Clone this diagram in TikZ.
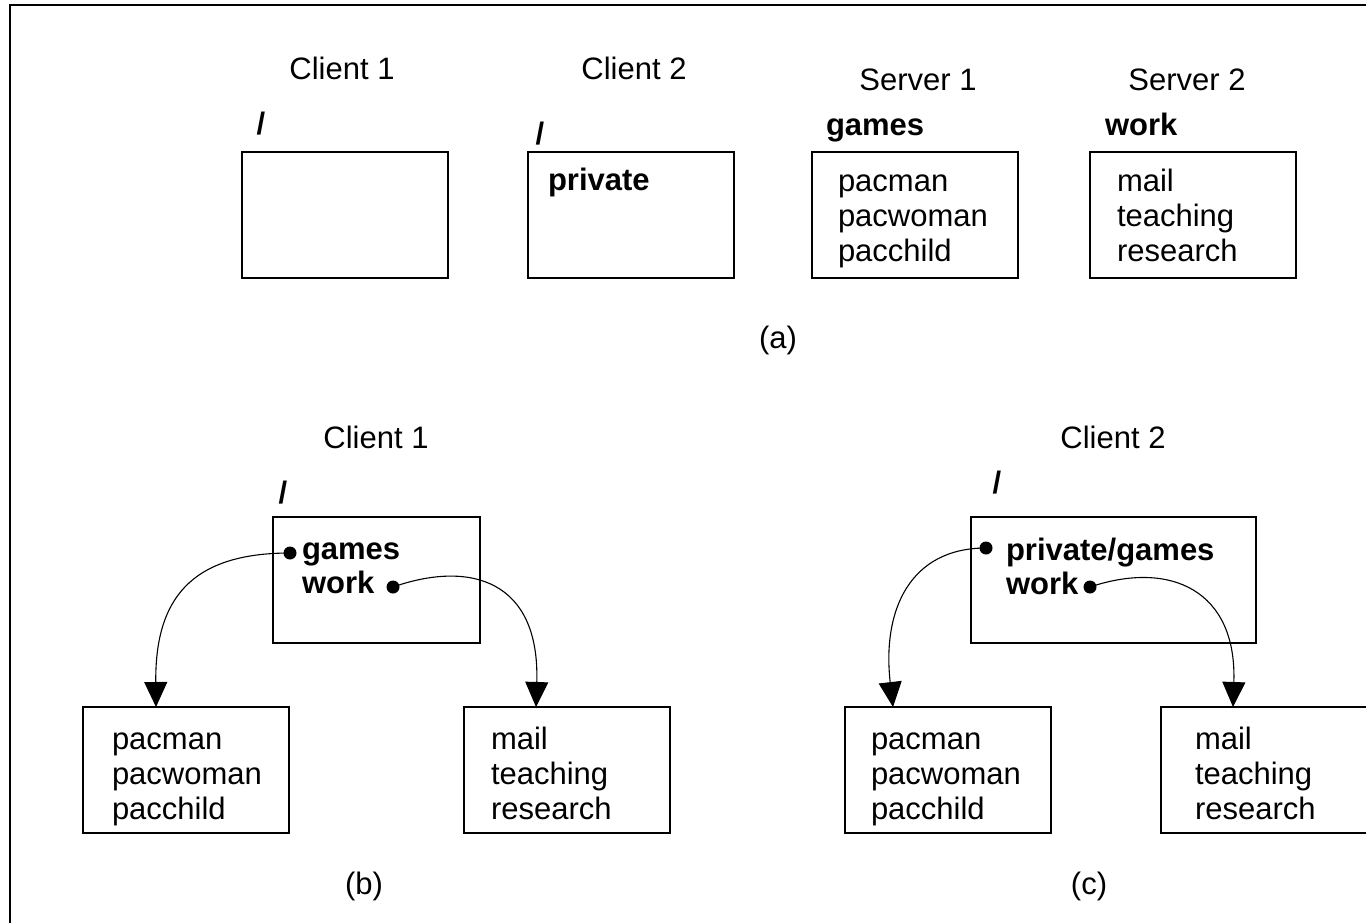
\documentclass[tikz,border=0pt]{standalone}
\usepackage{fontspec}
\setmainfont{Liberation Sans}
\usetikzlibrary{arrows.meta}
\begin{document}
\begin{tikzpicture}[x=1pt,y=-1pt,
  every node/.style={font=\fontsize{31}{35}\selectfont, inner sep=0pt, outer sep=0pt},
  box/.style={draw, line width=1.3pt, minimum width=206pt, minimum height=126pt, anchor=north west},
  txt/.style={anchor=base west},
  ctr/.style={anchor=base},
  bld/.style={anchor=base west, font=\fontsize{31}{35}\selectfont\bfseries},
  slash/.style={anchor=base, font=\fontsize{31}{35}\selectfont\bfseries},
  dot/.style={circle, fill=black, minimum size=13pt},
  link/.style={line width=1.1pt, -{Triangle[length=25pt,width=23pt]}}]
\clip (0,0) rectangle (1366,923);
\fill[white] (0,0) rectangle (1366,923);
\draw[line width=1.8pt] (10,5) rectangle (1400,960);

% (a)
\node[ctr] (lc1) at (342,80) {Client 1};
\node[ctr] (lc2) at (634,80) {Client 2};
\node[ctr] (ls1) at (918,91) {Server 1};
\node[ctr] (ls2) at (1187,91) {Server 2};
\node[slash] (sl1) at (261,135) {/};
\node[slash] (sl2) at (540,145) {/};
\node[bld] (gm) at (826,136) {games};
\node[bld] (wk) at (1105,136) {work};
\node[box] (a1) at (242,152) {};
\node[box] (a2) at (528,152) {};
\node[box] (a3) at (812,152) {};
\node[box] (a4) at (1090,152) {};
\node[bld] (pv) at (548,190) {private};
\node[txt] (a3x) at (838,191) {pacman};
\node[txt] (a3y) at (838,226) {pacwoman};
\node[txt] (a3z) at (838,261) {pacchild};
\node[txt] (a4x) at (1117,191) {mail};
\node[txt] (a4y) at (1117,226) {teaching};
\node[txt] (a4z) at (1117,261) {research};
\node[ctr] (capa) at (778,348) {(a)};

% (b)
\node[ctr] (lb) at (376,448) {Client 1};
\node[slash] (slb) at (283,503) {/};
\node[box, minimum width=207pt] (b0) at (273,517) {};
\node[bld] (bg) at (302,559) {games};
\node[bld] (bw) at (302,593) {work};
\node[dot] (bd1) at (290,553) {};
\node[dot] (bd2) at (393,587) {};
\node[box] (bL) at (83,707) {};
\node[box] (bR) at (464,707) {};
\node[txt] (bLx) at (112,749) {pacman};
\node[txt] (bLy) at (112,784) {pacwoman};
\node[txt] (bLz) at (112,819) {pacchild};
\node[txt] (bRx) at (491,749) {mail};
\node[txt] (bRy) at (491,784) {teaching};
\node[txt] (bRz) at (491,819) {research};
\node[ctr] (capb) at (364,894) {(b)};
\coordinate (bt1) at (156,707);
\coordinate (bt2) at (536,707);
\draw[link] (bd1.center) .. controls (190,553) and (155,600) .. (bt1);
\draw[link] (bd2.center) .. controls (470,560) and (540,580) .. (bt2);

% (c)
\node[ctr] (lcc) at (1113,448) {Client 2};
\node[slash] (slc) at (997,493) {/};
\node[box, minimum width=285pt] (c0) at (971,517) {};
\node[bld] (cg) at (1006,560) {private/games};
\node[bld] (cw) at (1006,594) {work};
\node[dot] (cd1) at (986,548) {};
\node[dot] (cd2) at (1090,587) {};
\node[box] (cL) at (845,707) {};
\node[box] (cR) at (1161,707) {};
\node[txt] (cLx) at (871,749) {pacman};
\node[txt] (cLy) at (871,784) {pacwoman};
\node[txt] (cLz) at (871,819) {pacchild};
\node[txt] (cRx) at (1195,749) {mail};
\node[txt] (cRy) at (1195,784) {teaching};
\node[txt] (cRz) at (1195,819) {research};
\node[ctr] (capc) at (1089,894) {(c)};
\coordinate (ct1) at (893,707);
\coordinate (ct2) at (1233,707);
\draw[link] (cd1.center) .. controls (910,548) and (882,610) .. (ct1);
\draw[link] (cd2.center) .. controls (1170,560) and (1237,590) .. (ct2);
\end{tikzpicture}
\end{document}
